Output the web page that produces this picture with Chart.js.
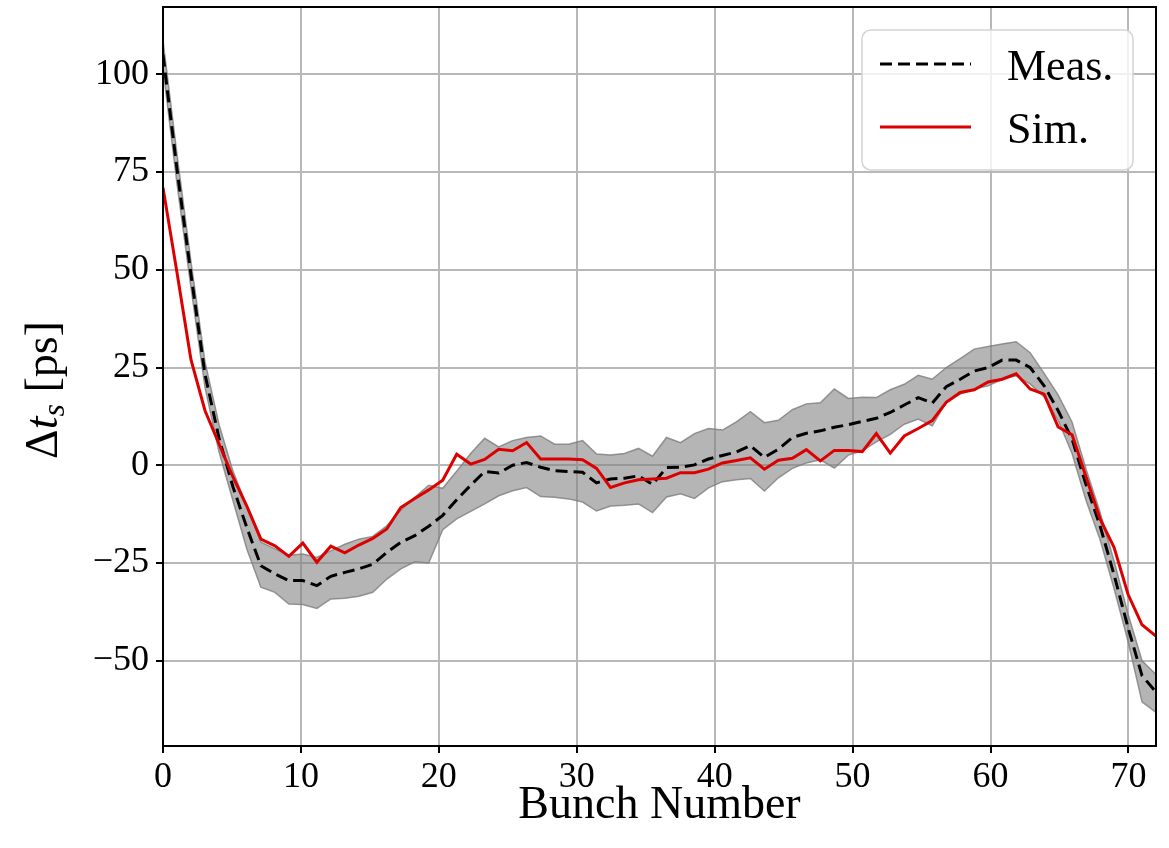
<!DOCTYPE html>
<html><head><meta charset="utf-8">
<script src="https://cdn.jsdelivr.net/npm/chart.js@4.4.1/dist/chart.umd.min.js"></script>
<style>html,body{margin:0;padding:0;background:#fff;}</style>
</head><body>
<canvas id="c" width="1169" height="848"></canvas>
<script>
// ---- data ----
const xAxisMax = 72;
const measured = [105, 75.7, 48.8, 23.3, 7, -5.5, -16, -25.7, -27.8, -29.5,
  -29.5, -30.8, -28.4, -27.4, -26.5, -25.3, -22.3, -19.7, -18, -15.6,
  -12.8, -8.8, -5.1, -1.6, -2, 0, 0.7, -0.5, -1.4, -1.6,
  -1.8, -4.5, -3.5, -3.3, -2.7, -4.9, -0.6, -0.5, 0.1, 1.6,
  2.5, 3.4, 5.0, 2.0, 4.1, 7.1, 8.2, 8.8, 9.7, 10.4,
  11.2, 12, 13.5, 15.4, 17.3, 15.9, 20.1, 22, 24.1, 25,
  26.9, 26.9, 25, 20.3, 14, 6.7, -5, -15.5, -28, -41.5,
  -53.8, -58];
const upperBand = [108.6, 79.5, 52, 26.5, 10.5, -1.5, -10.5, -19.7, -21.4, -23,
  -22.7, -23.6, -21.9, -20.2, -18.9, -18.2, -15.5, -11.5, -8.2, -5.1,
  -5.9, -1.5, 3, 6.9, 4.7, 6.3, 7.1, 7.5, 5.4, 5.4,
  6.3, 2.9, 2.6, 3, 4.3, 2.3, 7.1, 5.8, 8.1, 9.4,
  9, 11.1, 13.7, 10.9, 11.5, 14.2, 15.7, 16, 19.5, 17.1,
  17.4, 17.3, 19.3, 20.7, 23, 22, 25, 27.3, 29.7, 30.4,
  31, 31.6, 28.8, 23.5, 18, 11, -1, -12, -24.5, -38,
  -50, -53.5];
const lowerBand = [101.5, 72, 45.5, 20, 3.5, -9, -21.5, -31.2, -32.5, -35.5,
  -35.6, -36.6, -34.2, -34, -33.5, -32.5, -29.1, -26.5, -24.7, -25,
  -16.5, -13.7, -11.8, -9.9, -7.8, -6.5, -5.7, -8, -8.2, -8.6,
  -9.4, -11.7, -10.4, -10.2, -9.9, -12.1, -8.1, -7.3, -8.5, -5.8,
  -4.2, -3.7, -3.4, -6.6, -3.2, -0.8, 0.6, 1.4, -0.7, 2.6,
  3.7, 6.0, 7.9, 10.5, 11.8, 10.1, 16.1, 18.2, 19.5, 20.3,
  22, 22.9, 20.8, 17.5, 11.5, 3, -9, -19, -31.5, -45,
  -60.5, -63.2];
const simulated = [71, 49.3, 27, 14, 5.5, -3, -10.5, -18.9, -20.6, -23.3,
  -19.9, -24.8, -20.7, -22.4, -20.4, -18.7, -16.3, -10.8, -8.5, -6.3,
  -3.8, 2.8, 0.3, 1.5, 4.1, 3.7, 5.8, 1.6, 1.6, 1.6,
  1.4, -0.8, -5.7, -4.5, -3.7, -3.5, -3.3, -1.9, -1.9, -1.0,
  0.6, 1.2, 1.9, -1.0, 1.3, 1.8, 4.0, 1.1, 3.8, 3.8,
  3.5, 8.1, 3.1, 7.5, 9.4, 11.4, 16.1, 18.6, 19.3, 21.3,
  22, 23.4, 19.5, 18.2, 9.8, 7.8, -3, -13.7, -21, -33,
  -40.8, -43.7];
const xTickValues = [0, 10, 20, 30, 40, 50, 60, 70];
const yTickValues = [-50, -25, 0, 25, 50, 75, 100];
const seriesLabels = ['Meas.', 'Sim.'];
const xTitle = 'Bunch Number';
// bunch samples are spread evenly over the full x range
const bunchX = measured.map((_, k) => k * xAxisMax / (measured.length - 1));
const pts = arr => arr.map((v, k) => ({x: bunchX[k], y: v}));

const SERIF = "'Liberation Serif', 'DejaVu Serif', serif";
const RED = '#dd0000';

const framePlugin = {
  id: 'frameAndLegend',
  afterDatasetsDraw(chart) {
    const {ctx, chartArea: a} = chart;
    ctx.save();
    ctx.strokeStyle = '#000';
    ctx.lineWidth = 2;
    ctx.strokeRect(a.left, a.top, a.right - a.left, a.bottom - a.top);
    // legend
    const bx = 862, by = 30, bw = 271, bh = 140, r = 9;
    ctx.beginPath();
    ctx.moveTo(bx + r, by);
    ctx.arcTo(bx + bw, by, bx + bw, by + bh, r);
    ctx.arcTo(bx + bw, by + bh, bx, by + bh, r);
    ctx.arcTo(bx, by + bh, bx, by, r);
    ctx.arcTo(bx, by, bx + bw, by, r);
    ctx.closePath();
    ctx.fillStyle = 'rgba(255,255,255,0.8)';
    ctx.fill();
    ctx.strokeStyle = '#d4d4d4';
    ctx.lineWidth = 1.5;
    ctx.stroke();
    const ds = chart.data.datasets;
    const items = [ds[2], ds[3]];
    const ys = [64, 127];
    items.forEach((d, i) => {
      ctx.beginPath();
      ctx.setLineDash(d.borderDash || []);
      ctx.strokeStyle = d.borderColor;
      ctx.lineWidth = d.borderWidth;
      ctx.moveTo(880, ys[i]);
      ctx.lineTo(971, ys[i]);
      ctx.stroke();
      ctx.setLineDash([]);
      ctx.fillStyle = '#000';
      ctx.font = '44px ' + SERIF;
      ctx.textBaseline = 'alphabetic';
      ctx.textAlign = 'left';
      ctx.fillText(d.label, 1007, ys[i] + 16);
    });
    ctx.restore();
  },
  afterDraw(chart) {
    // y axis title: Δ t_s [ps] with italic t and subscript s
    const ctx = chart.ctx;
    const parts = [
      {t: '\u0394', f: '46px ' + SERIF, dy: 0},
      {t: 't', f: 'italic 46px ' + SERIF, dy: 0},
      {t: 's', f: 'italic 32px ' + SERIF, dy: 7},
      {t: ' [ps]', f: '46px ' + SERIF, dy: 0}
    ];
    ctx.save();
    let w = 0;
    parts.forEach(p => { ctx.font = p.f; p.w = ctx.measureText(p.t).width; w += p.w; });
    ctx.translate(57, 390);
    ctx.rotate(-Math.PI / 2);
    ctx.fillStyle = '#000';
    ctx.textBaseline = 'alphabetic';
    ctx.textAlign = 'left';
    let x = -w / 2;
    parts.forEach(p => { ctx.font = p.f; ctx.fillText(p.t, x, p.dy); x += p.w; });
    ctx.restore();
  }
};

const minus = v => String(v).replace('-', '\u2212');

new Chart(document.getElementById('c'), {
  type: 'line',
  data: {
    datasets: [
      {label: 'lower', data: pts(lowerBand), borderColor: 'rgba(125,125,125,0.8)', borderWidth: 1.5,
       pointRadius: 0, fill: false, order: 3, tension: 0},
      {label: 'upper', data: pts(upperBand), borderColor: 'rgba(125,125,125,0.8)', borderWidth: 1.5,
       backgroundColor: 'rgba(128,128,128,0.58)', pointRadius: 0, fill: '-1', order: 2, tension: 0},
      {label: seriesLabels[0], data: pts(measured), borderColor: '#000', borderWidth: 3,
       borderDash: [12, 6], pointRadius: 0, fill: false, order: 1, tension: 0},
      {label: seriesLabels[1], data: pts(simulated), borderColor: RED, borderWidth: 3,
       pointRadius: 0, fill: false, order: 0, tension: 0}
    ]
  },
  options: {
    responsive: false,
    animation: false,
    devicePixelRatio: 1,
    layout: {padding: {top: 7, right: 13, left: 0, bottom: 0}},
    plugins: {legend: {display: false}, tooltip: {enabled: false}},
    scales: {
      x: {
        type: 'linear', min: 0, max: xAxisMax,
        afterBuildTicks: s => { s.ticks = xTickValues.map(v => ({value: v})); },
        afterFit: s => { s.height = 102; s.paddingLeft = 0; s.paddingRight = 0; },
        grid: {color: '#b8b8b8', lineWidth: 2, tickColor: '#000', tickWidth: 2, tickLength: 7},
        border: {display: false},
        ticks: {font: {family: SERIF, size: 36}, color: '#000', padding: 3, maxRotation: 0,
                callback: v => minus(v)},
        title: {display: true, text: xTitle, color: '#000', font: {family: SERIF, size: 46},
                padding: {top: 0, bottom: 14}}
      },
      y: {
        type: 'linear', min: -71.8, max: 117.2,
        afterBuildTicks: s => { s.ticks = yTickValues.map(v => ({value: v})); },
        afterFit: s => { s.width = 163; s.paddingTop = 0; s.paddingBottom = 0; },
        grid: {color: '#b8b8b8', lineWidth: 2, tickColor: '#000', tickWidth: 2, tickLength: 7},
        border: {display: false},
        ticks: {font: {family: SERIF, size: 36}, color: '#000', padding: 7,
                callback: v => minus(v)}
      }
    }
  },
  plugins: [framePlugin]
});
</script>
</body></html>
